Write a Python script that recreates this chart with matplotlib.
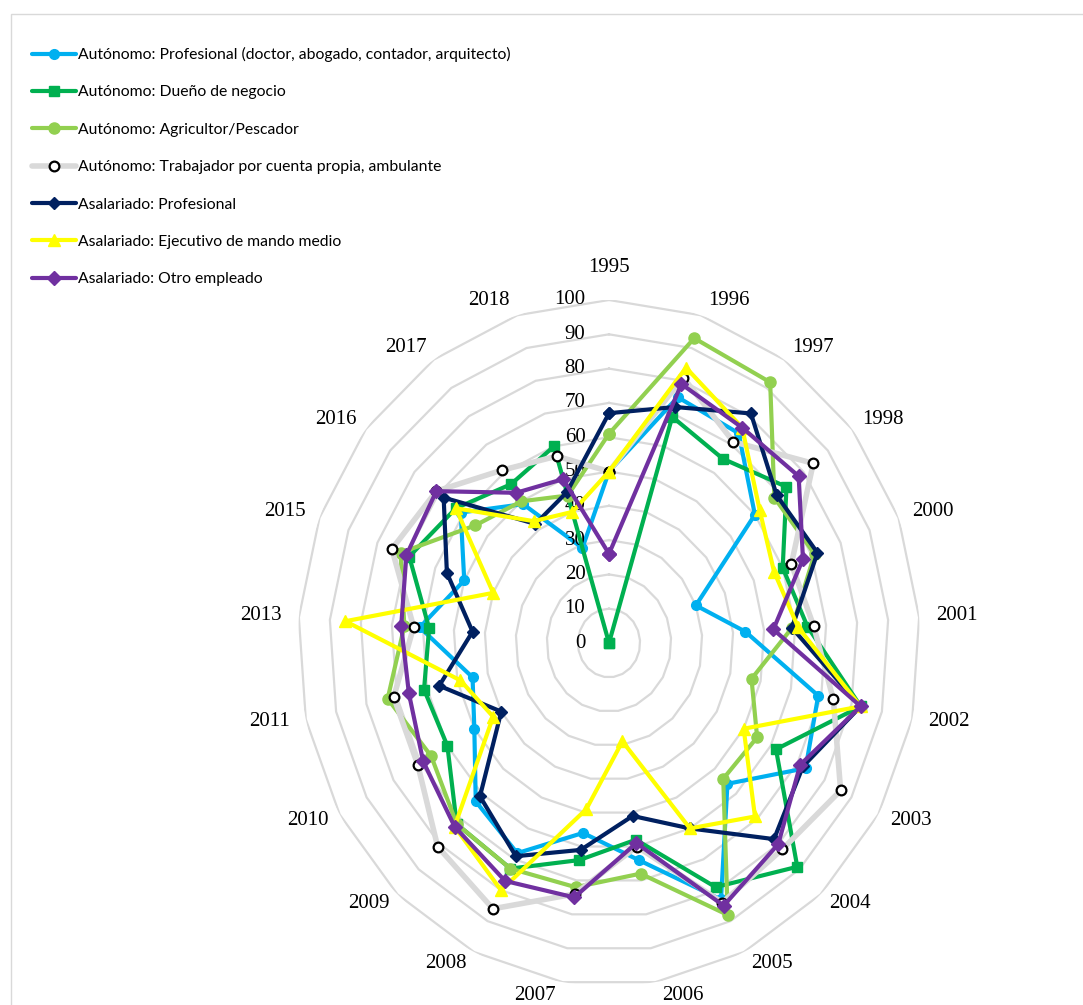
import numpy as np
import matplotlib
matplotlib.use("Agg")
import matplotlib.pyplot as plt
from matplotlib.patches import Rectangle

categories = ['1995', '1996', '1997', '1998', '2000', '2001', '2002', '2003', '2004', '2005', '2006',
              '2007', '2008', '2009', '2010', '2011', '2013', '2015', '2016', '2017', '2018']

aut_profesional = [50, 75, 74, 60, 30, 44, 69, 73, 56, 83, 64, 56, 68, 63, 50, 45, 61, 50, 61, 49, 29]
aut_dueno = [0, 69, 65, 73, 60, 64, 83, 62, 89, 79, 58, 64, 73, 72, 60, 61, 58, 69, 63, 56, 60]
aut_agricultor = [61, 93, 92, 68, 71, 59, 47, 55, 54, 88, 68, 72, 73, 72, 66, 73, 66, 72, 55, 50, 45]
aut_ambulante = [50, 81, 71, 84, 63, 66, 74, 86, 82, 84, 60, 74, 86, 81, 71, 71, 63, 75, 71, 61, 57]
asal_profesional = [67, 72, 81, 69, 72, 59, 83, 72, 78, 60, 51, 61, 69, 61, 40, 56, 44, 56, 68, 42, 46]
asal_ejecutivo = [50, 84, 76, 62, 57, 61, 83, 50, 69, 60, 29, 49, 80, 73, 43, 49, 85, 40, 63, 43, 40]
asal_otro = [26, 79, 76, 78, 67, 53, 83, 71, 80, 85, 59, 75, 77, 73, 69, 66, 67, 70, 71, 53, 50]

labels = ['Autónomo: Profesional (doctor, abogado, contador, arquitecto)',
          'Autónomo: Dueño de negocio',
          'Autónomo: Agricultor/Pescador',
          'Autónomo: Trabajador por cuenta propia, ambulante',
          'Asalariado: Profesional',
          'Asalariado: Ejecutivo de mando medio',
          'Asalariado: Otro empleado']

radial_ticks = [0, 10, 20, 30, 40, 50, 60, 70, 80, 90, 100]

W, H = 1083, 1005
fig = plt.figure(figsize=(W / 100, H / 100), dpi=100)

# outer chart frame (light gray)
fig.add_artist(Rectangle((11 / W, -0.05), 1.2, (H - 14) / H + 0.05, transform=fig.transFigure,
                         fill=False, edgecolor='#D9D9D9', linewidth=1.0))

cx, cy = 609, 643
rx, ry = 311, 343
ax = fig.add_axes([(cx - rx) / W, (H - cy - ry) / H, 2 * rx / W, 2 * ry / H], projection='polar')
ax.set_aspect('auto')
ax.set_theta_zero_location('N')
ax.set_theta_direction(-1)
ax.set_ylim(0, 100)
ax.grid(False)
ax.set_xticks([])
ax.set_yticks([])
ax.spines['polar'].set_visible(False)
ax.patch.set_visible(False)

n = len(categories)
theta = np.arange(n) * 2 * np.pi / n
theta_c = np.append(theta, theta[0])

# polygonal gridlines
for v in radial_ticks[1:]:
    ax.plot(theta_c, [v] * (n + 1), color='#D9D9D9', lw=1.6, zorder=1, solid_joinstyle='miter')

def closed(vals):
    return np.append(vals, vals[0])

series = [
    (aut_profesional, dict(color='#00B0F0', marker='o', ms=7, mfc='#00B0F0', mec='#00B0F0', lw=3)),
    (aut_dueno, dict(color='#00B050', marker='s', ms=7, mfc='#00B050', mec='#00B050', lw=3)),
    (aut_agricultor, dict(color='#92D050', marker='o', ms=8, mfc='#92D050', mec='#92D050', lw=3)),
    (aut_ambulante, dict(color='#D9D9D9', marker='o', ms=7, mfc='white', mec='black', mew=1.6, lw=4)),
    (asal_profesional, dict(color='#002060', marker='D', ms=6.5, mfc='#002060', mec='#002060', lw=3)),
    (asal_ejecutivo, dict(color='#FFFF00', marker='^', ms=8.5, mfc='#FFFF00', mec='#FFFF00', lw=3)),
    (asal_otro, dict(color='#7030A0', marker='D', ms=7.5, mfc='#7030A0', mec='#7030A0', lw=3)),
]

handles = []
for i, (vals, st) in enumerate(series):
    h, = ax.plot(theta_c, closed(vals), zorder=3 + i, clip_on=False, solid_joinstyle='round',
                 solid_capstyle='round', **st)
    handles.append(h)

serif = ['Liberation Serif', 'DejaVu Serif']

# category labels, placed just outside the outer ring
for t, lab in zip(theta, categories):
    s, c = np.sin(t), np.cos(t)
    if abs(s) < 0.05:
        ox, oy = 0.0, 32.0
    else:
        ox = np.sign(s) * (28 + 10 * abs(s) ** 6)
        oy = 14 * c + 1
    ax.annotate(lab, xy=(t, 100), xytext=(ox, oy), textcoords='offset pixels',
                ha='center', va='center', fontsize=15, family=serif, annotation_clip=False)

# radial value labels
for v in radial_ticks:
    ax.annotate(str(v), xy=(0, v), xytext=(-17, 0), textcoords='offset points',
                ha='right', va='center', fontsize=15, family=serif, annotation_clip=False)

fig.legend(handles, labels, loc='upper left', bbox_to_anchor=(32 / W, 1 - 47 / H),
           frameon=False, borderaxespad=0, borderpad=0,
           prop={'family': ['Lato', 'DejaVu Sans'], 'size': 11.3},
           handlelength=2.8, handletextpad=0.13, labelspacing=1.49, numpoints=1)

fig.savefig('out.png', dpi=100)
